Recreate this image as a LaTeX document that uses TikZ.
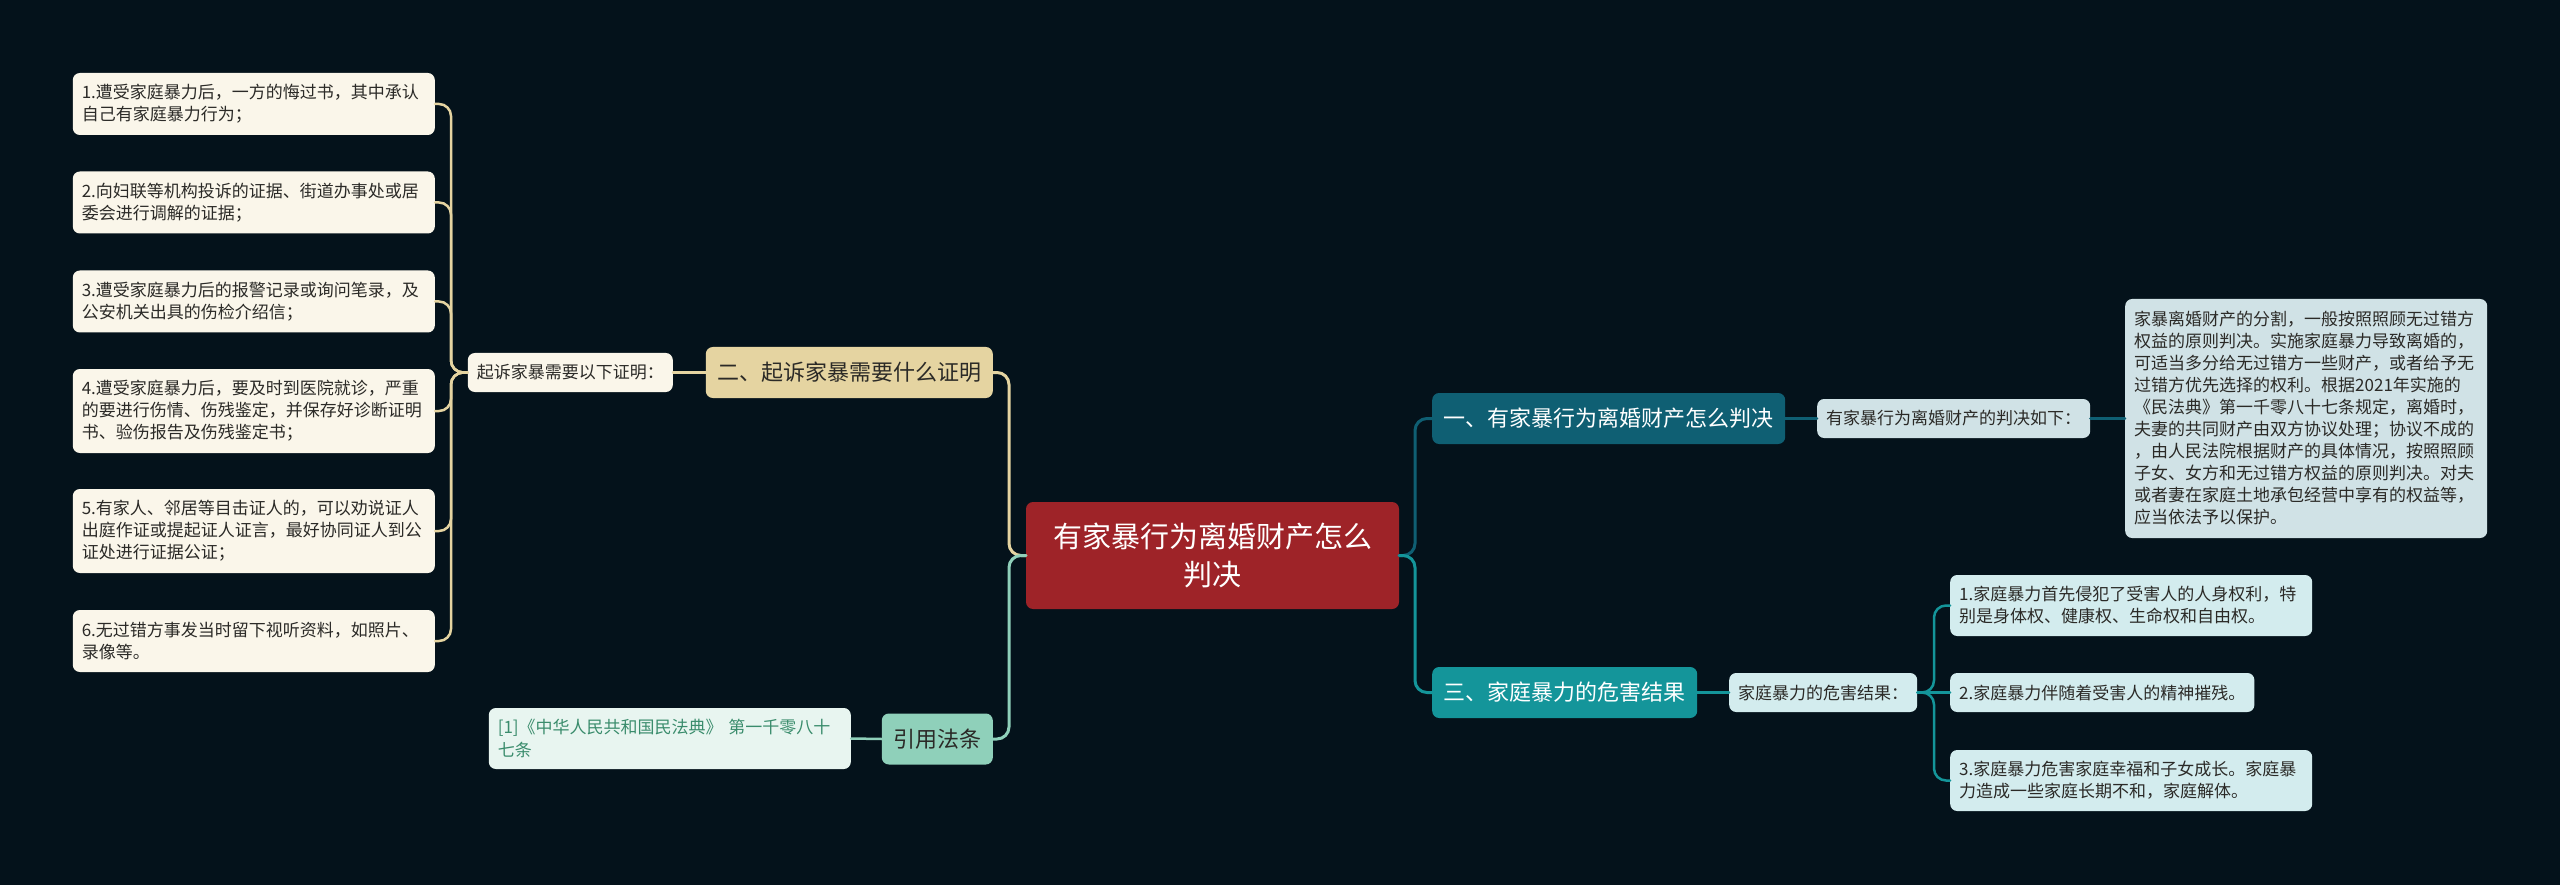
\documentclass[tikz,border=0pt]{standalone}
\usepackage{fontspec}
\setmainfont{Noto Sans CJK SC}
\definecolor{bg}{HTML}{04121B}
\definecolor{redc}{HTML}{9E2328}
\definecolor{tanc}{HTML}{E5D4A1}
\definecolor{cream}{HTML}{FAF6EA}
\definecolor{mintc}{HTML}{8FD0BA}
\definecolor{mintl}{HTML}{E8F5F0}
\definecolor{citec}{HTML}{3A8C6C}
\definecolor{bluec}{HTML}{0F5F73}
\definecolor{paleblue}{HTML}{D0E2E6}
\definecolor{tealc}{HTML}{14959A}
\definecolor{paleteal}{HTML}{D3ECEE}
\definecolor{ink}{HTML}{2B2A27}
\begin{document}
\begin{tikzpicture}[x=1pt,y=-1pt,line join=round,line cap=round,
  every node/.style={rounded corners=7pt,inner ysep=0pt,inner xsep=9pt,text=ink},
  small/.style={font=\fontsize{17}{22}\selectfont,minimum height=39pt},
  leaf/.style={small,align=left,text width=344pt},
  branch/.style={font=\fontsize{22}{26}\selectfont,minimum height=51pt,inner xsep=11.5pt},
  link/.style={line width=3pt,rounded corners=12pt},
  twig/.style={line width=2.5pt,rounded corners=12pt}]
\fill[bg] (0,0) rectangle (2560,885);
\useasboundingbox (0,0) rectangle (2560,885);
\node[fill=redc,text=white,font=\fontsize{29}{38}\selectfont,align=center,minimum width=373pt,minimum height=107pt] (root) at (1212.5,555.5) {有家暴行为离婚财产怎么\\判决};
\coordinate (lfork) at (1009,555.5);
\coordinate (rfork) at (1415,555.5);
\coordinate (nfork) at (451,372.5);
\coordinate (hfork) at (1934,692.5);
% left side
\node[branch,fill=tanc,anchor=east] (proof) at (993,372.5) {二、起诉家暴需要什么证明};
\node[small,fill=cream,anchor=east] (need) at (673,372.5) {起诉家暴需要以下证明：};
\node[leaf,fill=cream,anchor=east,minimum height=62pt] (e1) at (435,104) {1.遭受家庭暴力后，一方的悔过书，其中承认\\自己有家庭暴力行为；};
\node[leaf,fill=cream,anchor=east,minimum height=62pt] (e2) at (435,202.5) {2.向妇联等机构投诉的证据、街道办事处或居\\委会进行调解的证据；};
\node[leaf,fill=cream,anchor=east,minimum height=62pt] (e3) at (435,301.5) {3.遭受家庭暴力后的报警记录或询问笔录，及\\公安机关出具的伤检介绍信；};
\node[leaf,fill=cream,anchor=east,minimum height=84pt] (e4) at (435,411) {4.遭受家庭暴力后，要及时到医院就诊，严重\\的要进行伤情、伤残鉴定，并保存好诊断证明\\书、验伤报告及伤残鉴定书；};
\node[leaf,fill=cream,anchor=east,minimum height=84pt] (e5) at (435,531) {5.有家人、邻居等目击证人的，可以劝说证人\\出庭作证或提起证人证言，最好协同证人到公\\证处进行证据公证；};
\node[leaf,fill=cream,anchor=east,minimum height=62pt] (e6) at (435,641) {6.无过错方事发当时留下视听资料，如照片、\\录像等。};
\node[branch,fill=mintc,anchor=east] (law) at (993,739) {引用法条};
\node[leaf,fill=mintl,text=citec,font=\fontsize{17}{23}\selectfont,anchor=east,minimum height=61pt] (cite) at (851,738.5) {[1]《中华人民共和国民法典》 第一千零八十\\七条};
% right side
\node[branch,fill=bluec,text=white,anchor=west] (way) at (1432,418.5) {一、有家暴行为离婚财产怎么判决};
\node[small,fill=paleblue,anchor=west] (rule) at (1817,418.5) {有家暴行为离婚财产的判决如下：};
\node[leaf,fill=paleblue,anchor=west,minimum height=239pt] (split) at (2125,418.5) {家暴离婚财产的分割，一般按照照顾无过错方\\权益的原则判决。实施家庭暴力导致离婚的，\\可适当多分给无过错方一些财产，或者给予无\\过错方优先选择的权利。根据2021年实施的\\《民法典》第一千零八十七条规定，离婚时，\\夫妻的共同财产由双方协议处理；协议不成的\\，由人民法院根据财产的具体情况，按照照顾\\子女、女方和无过错方权益的原则判决。对夫\\或者妻在家庭土地承包经营中享有的权益等，\\应当依法予以保护。};
\node[branch,fill=tealc,text=white,anchor=west] (harm) at (1432,692.5) {三、家庭暴力的危害结果};
\node[small,fill=paleteal,anchor=west] (hurt) at (1729,692.5) {家庭暴力的危害结果：};
\node[leaf,fill=paleteal,anchor=west,minimum height=61pt] (h1) at (1950,605.5) {1.家庭暴力首先侵犯了受害人的人身权利，特\\别是身体权、健康权、生命权和自由权。};
\node[small,fill=paleteal,anchor=west] (h2) at (1950,692.5) {2.家庭暴力伴随着受害人的精神摧残。};
\node[leaf,fill=paleteal,anchor=west,minimum height=61pt] (h3) at (1950,780.5) {3.家庭暴力危害家庭幸福和子女成长。家庭暴\\力造成一些家庭长期不和，家庭解体。};
% connectors
\draw[link,tanc] (root.west) -- (lfork) |- (proof.east);
\draw[link,mintc] (root.west) -- (lfork) |- (law.east);
\draw[link,bluec] (root.east) -- (rfork) |- (way.west);
\draw[link,tealc] (root.east) -- (rfork) |- (harm.west);
\draw[twig,tanc] (proof.west) -- (need.east);
\foreach \i in {1,...,6} \draw[twig,tanc] (need.west) -- (nfork) |- (e\i.east);
\draw[twig,mintc] (law.west) -- (cite.east);
\draw[twig,bluec] (way.east) -- (rule.west) (rule.east) -- (split.west);
\draw[twig,tealc] (harm.east) -- (hurt.west) (hurt.east) -- (h2.west);
\foreach \i in {1,3} \draw[twig,tealc] (hurt.east) -- (hfork) |- (h\i.west);
\end{tikzpicture}
\end{document}
